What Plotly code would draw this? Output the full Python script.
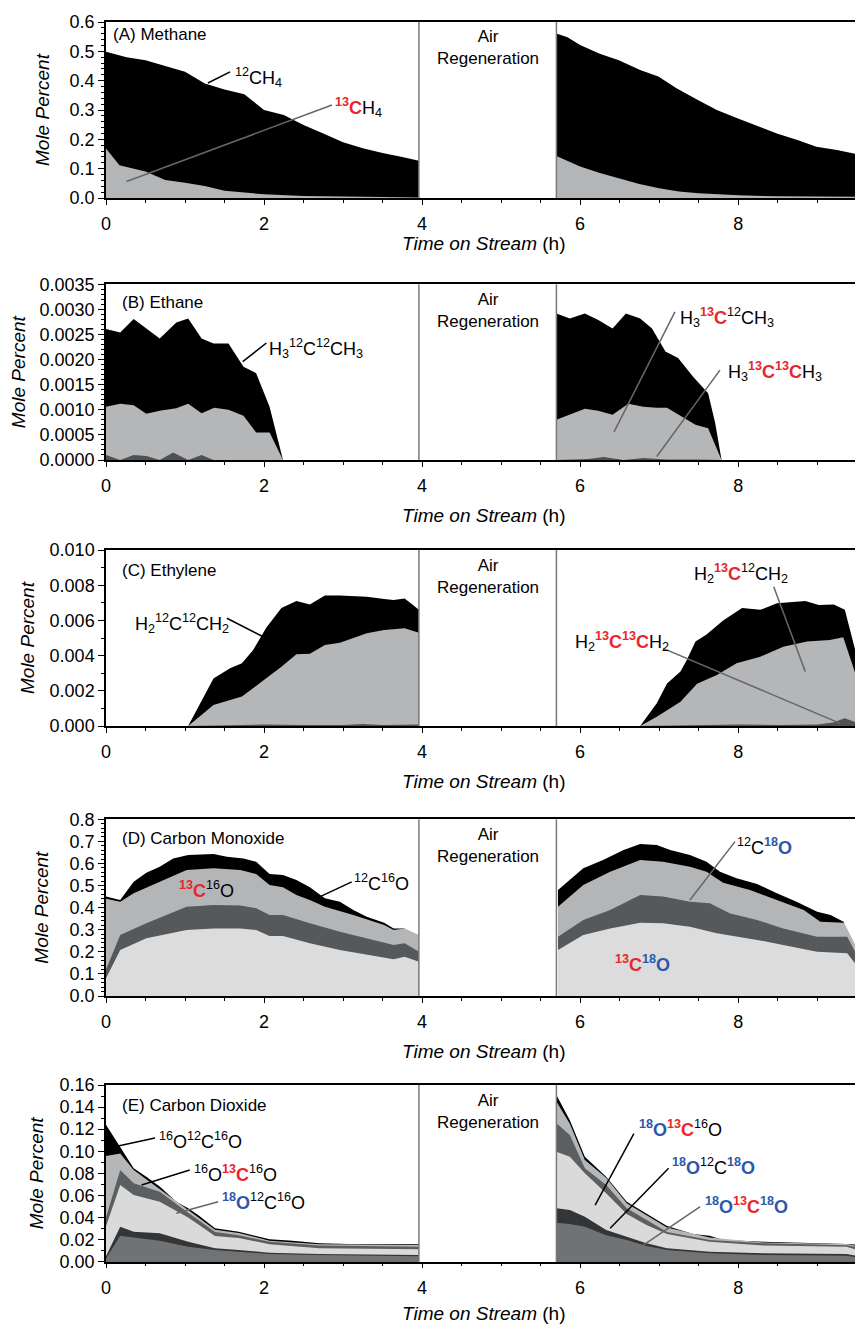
import plotly.graph_objects as go

# ---------------- DATA (mole percent vs time on stream, h) ----------------
# Cumulative (stacked) boundaries; each layer is drawn
# from zero, top-most layer first.

# (A) Methane
a1_t_tot = [0, 0.26, 0.5, 0.75, 1.0, 1.25, 1.5, 1.75, 2.0, 2.25, 2.5, 2.75, 3.0, 3.25, 3.5, 3.75, 3.96]
a1_tot = [0.499, 0.48, 0.47, 0.45, 0.43, 0.39, 0.37, 0.354, 0.30, 0.283, 0.249, 0.22, 0.19, 0.17, 0.153, 0.14, 0.127]
a1_t_13 = [0, 0.17, 0.5, 0.75, 1.0, 1.25, 1.5, 1.75, 2.0, 2.5, 3.0, 3.5, 3.96]
a1_13 = [0.169, 0.112, 0.09, 0.061, 0.052, 0.041, 0.025, 0.018, 0.0125, 0.007, 0.004, 0.003, 0.002]
a2_t_tot = [5.70, 5.84, 6.0, 6.24, 6.49, 6.76, 6.99, 7.22, 7.49, 7.73, 7.99, 8.24, 8.49, 8.75, 8.99, 9.25, 9.5, 9.53, 9.58]
a2_tot = [0.561, 0.548, 0.522, 0.493, 0.47, 0.436, 0.414, 0.374, 0.334, 0.30, 0.272, 0.245, 0.22, 0.198, 0.175, 0.164, 0.15, 0.145, 0.125]
a2_t_13 = [5.70, 6.0, 6.25, 6.5, 6.75, 7.0, 7.25, 7.5, 8.0, 8.5, 9.0, 9.58]
a2_13 = [0.143, 0.107, 0.085, 0.067, 0.048, 0.033, 0.022, 0.016, 0.009, 0.006, 0.005, 0.004]

# (B) Ethane
b1_t_tot = [0, 0.18, 0.35, 0.68, 0.89, 1.04, 1.21, 1.36, 1.55, 1.74, 1.9, 2.07, 2.24]
b1_tot = [0.00261, 0.00254, 0.00281, 0.00242, 0.00274, 0.00282, 0.00242, 0.00232, 0.00232, 0.00186, 0.00173, 0.00106, 0]
b1_t_13 = [0, 0.18, 0.35, 0.51, 0.68, 0.89, 1.04, 1.21, 1.37, 1.55, 1.74, 1.9, 2.07, 2.24]
b1_13 = [0.00106, 0.00112, 0.00109, 0.00092, 0.00098, 0.00103, 0.00112, 0.00093, 0.00104, 0.001, 0.00088, 0.00055, 0.00055, 0]
b1_t_1313 = [0, 0.18, 0.35, 0.51, 0.68, 0.85, 1.04, 1.21, 1.36]
b1_1313 = [0.0001, 0.0, 0.0001, 0.00008, 0.0, 0.00015, 0.0, 0.0001, 0.0]
b2_t_tot = [5.70, 5.87, 6.06, 6.23, 6.41, 6.58, 6.76, 6.91, 7.08, 7.24, 7.43, 7.62, 7.71, 7.79]
b2_tot = [0.00292, 0.00282, 0.00292, 0.00279, 0.00262, 0.00292, 0.00282, 0.00262, 0.00216, 0.00203, 0.00166, 0.00133, 0.00073, 0]
b2_t_13 = [5.70, 5.87, 6.06, 6.23, 6.41, 6.61, 6.8, 6.97, 7.1, 7.29, 7.46, 7.62, 7.79]
b2_13 = [0.0008, 0.0009, 0.00102, 0.00098, 0.0009, 0.00112, 0.00106, 0.00104, 0.00104, 0.00086, 0.0007, 0.00063, 0]
b2_t_1313 = [5.70, 6.1, 6.3, 6.45, 6.55, 6.8, 6.95, 7.1, 7.5, 7.79]
b2_1313 = [0, 0.00002, 0.00006, 0.00003, 0.0, 0.00004, 0.00003, 0.00001, 0.00001, 0]

# (C) Ethylene
c1_t_tot = [1.04, 1.36, 1.57, 1.72, 1.86, 2.03, 2.22, 2.41, 2.58, 2.77, 2.96, 3.3, 3.52, 3.64, 3.78, 3.96]
c1_tot = [0, 0.0027, 0.00328, 0.00356, 0.0043, 0.0056, 0.0067, 0.0071, 0.0069, 0.00742, 0.00742, 0.00735, 0.00722, 0.00716, 0.00725, 0.0066]
c1_t_13 = [1.04, 1.36, 1.57, 1.72, 1.86, 2.03, 2.22, 2.41, 2.58, 2.77, 2.96, 3.3, 3.52, 3.78, 3.96]
c1_13 = [0, 0.00119, 0.00148, 0.00167, 0.00214, 0.0027, 0.00337, 0.00407, 0.0041, 0.0046, 0.00473, 0.00527, 0.00545, 0.00555, 0.0053]
c1_t_1313 = [1.04, 1.5, 2.0, 2.5, 3.0, 3.25, 3.5, 3.96]
c1_1313 = [0, 0.00005, 0.00008, 0.00005, 0.00006, 0.00012, 0.00006, 0.00008]
c2_t_tot = [6.76, 6.97, 7.1, 7.27, 7.35, 7.46, 7.6, 7.81, 8.05, 8.28, 8.49, 8.68, 8.85, 9.02, 9.21, 9.35, 9.58]
c2_tot = [0, 0.00129, 0.00242, 0.0031, 0.00375, 0.0048, 0.0052, 0.006, 0.0067, 0.0066, 0.00697, 0.00705, 0.0071, 0.00688, 0.0069, 0.0066, 0.0026]
c2_t_13 = [6.76, 6.97, 7.27, 7.48, 7.73, 7.98, 8.28, 8.57, 8.87, 9.16, 9.33, 9.58]
c2_13 = [0, 0.00053, 0.00138, 0.0024, 0.0029, 0.00356, 0.00394, 0.0045, 0.0048, 0.00489, 0.00504, 0.00167]
c2_t_1313 = [6.76, 7.5, 8.0, 8.5, 9.0, 9.2, 9.35, 9.5, 9.58]
c2_1313 = [0, 0.00005, 0.00008, 0.00006, 0.00008, 0.0002, 0.00044, 0.0002, 0.0001]

# (D) Carbon monoxide
d1_t_1216 = [0, 0.18, 0.35, 0.51, 0.68, 0.85, 1.04, 1.36, 1.53, 1.74, 1.9, 2.07, 2.24, 2.41, 2.58, 2.77, 2.96, 3.13, 3.3, 3.52, 3.64, 3.78]
d1_1216 = [0.45, 0.435, 0.517, 0.558, 0.585, 0.623, 0.638, 0.643, 0.63, 0.623, 0.608, 0.552, 0.548, 0.525, 0.492, 0.442, 0.427, 0.389, 0.359, 0.332, 0.306, 0.306]
d1_t_1316 = [0, 0.18, 0.35, 0.68, 1.02, 1.36, 1.7, 1.9, 2.07, 2.24, 2.41, 2.58, 2.77, 3.13, 3.52, 3.64, 3.78, 3.96]
d1_1316 = [0.44, 0.427, 0.465, 0.517, 0.57, 0.578, 0.57, 0.552, 0.502, 0.492, 0.457, 0.435, 0.404, 0.367, 0.321, 0.299, 0.306, 0.276]
d1_t_18 = [0, 0.18, 0.51, 1.02, 1.36, 1.7, 1.9, 2.07, 2.24, 2.58, 2.96, 3.3, 3.64, 3.78, 3.96]
d1_1218 = [0.12, 0.276, 0.329, 0.404, 0.412, 0.41, 0.397, 0.367, 0.367, 0.329, 0.291, 0.261, 0.231, 0.239, 0.2]
d1_1318 = [0.08, 0.208, 0.261, 0.299, 0.306, 0.306, 0.299, 0.272, 0.272, 0.239, 0.208, 0.186, 0.166, 0.178, 0.155]
d2_t_1216 = [5.72, 5.87, 6.04, 6.29, 6.55, 6.76, 6.97, 7.14, 7.39, 7.6, 7.77, 7.98, 8.24, 8.49, 8.74, 9.0, 9.17, 9.34]
d2_1216 = [0.48, 0.525, 0.578, 0.616, 0.661, 0.688, 0.684, 0.661, 0.638, 0.608, 0.563, 0.533, 0.507, 0.465, 0.427, 0.382, 0.367, 0.335]
d2_t_1316 = [5.72, 6.04, 6.38, 6.76, 7.05, 7.39, 7.6, 7.81, 8.15, 8.49, 8.83, 9.04, 9.34, 9.58]
d2_1316 = [0.404, 0.502, 0.563, 0.616, 0.608, 0.585, 0.563, 0.513, 0.48, 0.435, 0.389, 0.336, 0.332, 0.163]
d2_t_1218 = [5.72, 6.04, 6.38, 6.76, 7.05, 7.39, 7.64, 7.9, 8.24, 8.57, 9.0, 9.38, 9.58]
d2_1218 = [0.268, 0.344, 0.389, 0.457, 0.45, 0.427, 0.42, 0.374, 0.344, 0.306, 0.268, 0.268, 0.133]
d2_t_1318 = [5.72, 6.04, 6.38, 6.76, 7.05, 7.39, 7.73, 8.24, 8.57, 9.0, 9.38, 9.58]
d2_1318 = [0.208, 0.276, 0.306, 0.332, 0.329, 0.314, 0.284, 0.254, 0.231, 0.2, 0.193, 0.103]

# (E) Carbon dioxide
e1_t_top = [0, 0.2, 0.35, 0.51, 0.68, 0.89, 1.04, 1.17, 1.38, 1.68, 1.86, 2.07, 2.36, 2.7, 3.07, 3.96]
e1_161216 = [0.124, 0.101, 0.0846, 0.077, 0.068, 0.0543, 0.0483, 0.042, 0.0302, 0.0272, 0.0242, 0.0203, 0.019, 0.0167, 0.016, 0.016]
e1_t = [0, 0.18, 0.35, 0.68, 1.04, 1.38, 1.68, 2.07, 2.7, 3.96]
e1_161316 = [0.0957, 0.098, 0.083, 0.066, 0.0468, 0.029, 0.026, 0.019, 0.0158, 0.0153]
e1_181216 = [0.04, 0.083, 0.071, 0.0634, 0.0444, 0.027, 0.024, 0.018, 0.0146, 0.0136]
e1_181316 = [0.032, 0.0695, 0.0604, 0.0543, 0.04, 0.0233, 0.0215, 0.0158, 0.0121, 0.0113]
e1_181218 = [0.005, 0.0317, 0.0272, 0.0257, 0.0181, 0.0121, 0.0106, 0.0082, 0.007, 0.006]
e1_181318 = [0.003, 0.0236, 0.022, 0.019, 0.0136, 0.0106, 0.009, 0.007, 0.006, 0.005]
e2_t_top = [5.70, 5.87, 6.06, 6.33, 6.59, 6.84, 7.1, 7.43, 7.64, 7.81, 8.32, 9.37, 9.58]
e2_161216 = [0.151, 0.128, 0.095, 0.077, 0.0543, 0.0438, 0.0323, 0.0251, 0.0236, 0.0197, 0.018, 0.016, 0.015]
e2_t = [5.70, 5.87, 6.06, 6.33, 6.59, 6.84, 7.1, 7.64, 8.32, 9.37, 9.58]
e2_161316 = [0.145, 0.125, 0.092, 0.076, 0.053, 0.042, 0.031, 0.022, 0.0173, 0.016, 0.0136]
e2_181216 = [0.1253, 0.1147, 0.0846, 0.0695, 0.0483, 0.0377, 0.027, 0.0197, 0.0167, 0.015, 0.012]
e2_181316 = [0.0996, 0.095, 0.08, 0.062, 0.0432, 0.0332, 0.025, 0.018, 0.0146, 0.0136, 0.009]
e2_181218 = [0.0483, 0.0468, 0.0408, 0.0287, 0.0226, 0.0167, 0.0121, 0.009, 0.0076, 0.007, 0.0045]
e2_181318 = [0.0353, 0.0341, 0.0317, 0.024, 0.0197, 0.0143, 0.0106, 0.0076, 0.006, 0.0054, 0.003]

# axis settings
x_ticks = [0, 2, 4, 6, 8]
regen_start, regen_end = 3.96, 5.70
y_max = [0.6, 0.0035, 0.010, 0.8, 0.16]
y_dtick = [0.1, 0.0005, 0.002, 0.1, 0.02]
y_minor = [0.02, 0.0001, 0.001, 0.02, 0.01]
y_fmt = [".1f", ".4f", ".3f", ".1f", ".2f"]
panel_titles = ["(A) Methane", "(B) Ethane", "(C) Ethylene", "(D) Carbon Monoxide", "(E) Carbon Dioxide"]

# ---------------- LAYOUT CONSTANTS (page pixels) ----------------
PAGE_W, PAGE_H = 863, 1326
OFF = 8                      # default body margin of the html page
W, H = PAGE_W - OFF, PAGE_H - OFF
LEFT = 106                   # page x of plot-area left edge
PLOT_W = PAGE_W - LEFT
panel_px = [(22, 198), (284.3, 460), (550, 726), (819.3, 996), (1085, 1261.7)]
title_gap = [45, 55, 55.7, 55.7, 51.6]
ptitle_gap = [13, 18, 20, 19, 20]
ytitle_x = [42, 18, 27, 42, 36]
FONT = "Arial, 'Liberation Sans', Helvetica, sans-serif"
RED = "#e8262b"
BLUE = "#2b58aa"
BLACK = "#000000"
GRAY_LINE = "#666666"

C13 = f"<b><span style='color:{RED}'><sup>13</sup>C</span></b>"
O18 = f"<b><span style='color:{BLUE}'><sup>18</sup>O</span></b>"

fig = go.Figure()


def ax(k):
    return ("x" if k == 1 else f"x{k}"), ("y" if k == 1 else f"y{k}")


def area(k, t, v, color):
    xa, ya = ax(k)
    fig.add_trace(go.Scatter(x=t, y=v, mode="lines", line=dict(width=0, color=color),
                             fill="tozeroy", fillcolor=color, xaxis=xa, yaxis=ya,
                             hoverinfo="skip", showlegend=False))


# Panel A
area(1, a1_t_tot, a1_tot, "#000000"); area(1, a1_t_13, a1_13, "#b4b5b7")
area(1, a2_t_tot, a2_tot, "#000000"); area(1, a2_t_13, a2_13, "#b4b5b7")
# Panel B
for t1, v1, t2, v2, col in [(b1_t_tot, b1_tot, b2_t_tot, b2_tot, "#000000"),
                            (b1_t_13, b1_13, b2_t_13, b2_13, "#b5b6b8"),
                            (b1_t_1313, b1_1313, b2_t_1313, b2_1313, "#4f5254")]:
    area(2, t1, v1, col); area(2, t2, v2, col)
# Panel C
for t1, v1, t2, v2, col in [(c1_t_tot, c1_tot, c2_t_tot, c2_tot, "#000000"),
                            (c1_t_13, c1_13, c2_t_13, c2_13, "#b5b6b8"),
                            (c1_t_1313, c1_1313, c2_t_1313, c2_1313, "#4f5254")]:
    area(3, t1, v1, col); area(3, t2, v2, col)
# Panel D
for t1, v1, t2, v2, col in [(d1_t_1216, d1_1216, d2_t_1216, d2_1216, "#000000"),
                            (d1_t_1316, d1_1316, d2_t_1316, d2_1316, "#b3b5b7"),
                            (d1_t_18, d1_1218, d2_t_1218, d2_1218, "#55595b"),
                            (d1_t_18, d1_1318, d2_t_1318, d2_1318, "#dcdcdc")]:
    area(4, t1, v1, col); area(4, t2, v2, col)
# Panel E
area(5, e1_t_top, e1_161216, "#000000"); area(5, e2_t_top, e2_161216, "#000000")
for v1, v2, col in [(e1_161316, e2_161316, "#b5b6b8"),
                    (e1_181216, e2_181216, "#5b5f61"),
                    (e1_181316, e2_181316, "#dadada"),
                    (e1_181218, e2_181218, "#333537"),
                    (e1_181318, e2_181318, "#707274")]:
    area(5, e1_t, v1, col); area(5, e2_t, v2, col)

layout = dict(width=W, height=H, margin=dict(l=LEFT - OFF, r=0, t=0, b=0, autoexpand=False),
              paper_bgcolor="white", plot_bgcolor="white",
              font=dict(family=FONT, color="black", size=16), showlegend=False)
shapes, annos = [], []
for i in range(5):
    k = i + 1
    top, bot = panel_px[i]
    dom = [1 - (bot - OFF) / H, 1 - (top - OFF) / H]
    ph = bot - top
    xa, ya = ax(k)
    xkey = "xaxis" if k == 1 else f"xaxis{k}"
    ykey = "yaxis" if k == 1 else f"yaxis{k}"
    layout[xkey] = dict(domain=[0, 1], range=[0, 9.58], anchor=ya, tickvals=x_ticks, automargin=False,
                        ticks="outside", ticklen=5, tickwidth=1.3, tickcolor="black",
                        minor=dict(dtick=0.5, tick0=0, ticks="outside", ticklen=3, tickwidth=1.3, tickcolor="black"),
                        showline=True, linecolor="black", linewidth=1.5, mirror=True,
                        showgrid=False, zeroline=False, tickfont=dict(size=18), ticklabelstandoff=4)
    layout[ykey] = dict(domain=dom, range=[0, y_max[i]], anchor=xa, dtick=y_dtick[i], tick0=0, automargin=False,
                        tickformat=y_fmt[i], ticks="outside", ticklen=6, tickwidth=1.3, tickcolor="black",
                        minor=dict(dtick=y_minor[i], tick0=0, ticks="outside", ticklen=3, tickwidth=1, tickcolor="black"),
                        showline=True, linecolor="black", linewidth=1.5,
                        showgrid=False, zeroline=False, tickfont=dict(size=18))
    # regeneration boundaries
    for xv in (regen_start, regen_end):
        shapes.append(dict(type="line", xref=xa, yref=f"{ya} domain", x0=xv, x1=xv, y0=0, y1=1,
                           line=dict(color="#7a7a7a", width=1.5)))
    annos.append(dict(xref=xa, yref=f"{ya} domain", x=(regen_start + regen_end) / 2, y=1 - 26 / ph,
                      xanchor="center", yanchor="middle",
                      text="Air<br>Regeneration", showarrow=False, font=dict(size=17), align="center"))
    # panel title
    annos.append(dict(xref=xa, yref=f"{ya} domain", x=0.06 if k == 1 else 0.18, y=1 - ptitle_gap[i] / ph,
                      text=panel_titles[i], showarrow=False, xanchor="left", yanchor="middle",
                      font=dict(size=17)))
    # axis titles
    annos.append(dict(xref="paper", yref=f"{ya} domain", x=(484 - LEFT) / PLOT_W, y=-title_gap[i] / ph,
                      xanchor="center", yanchor="middle",
                      text="<i>Time on Stream</i> (h)", showarrow=False, font=dict(size=19)))
    annos.append(dict(xref="paper", yref=f"{ya} domain", x=(ytitle_x[i] - LEFT) / PLOT_W, y=0.5,
                      xanchor="center", yanchor="middle",
                      text="<i>Mole Percent</i>", textangle=-90, showarrow=False, font=dict(size=19)))


def label(k, x, y, text, size=18):
    xa, ya = ax(k)
    annos.append(dict(xref=xa, yref=ya, x=x, y=y, text=text, showarrow=False,
                      xanchor="left", yanchor="middle", font=dict(size=size)))


def leader(k, x0, y0, x1, y1, color=BLACK):
    xa, ya = ax(k)
    shapes.append(dict(type="line", xref=xa, yref=ya, x0=x0, y0=y0, x1=x1, y1=y1,
                       line=dict(color=color, width=1.5)))


# A
label(1, 1.61, 0.412, "<sup>12</sup>CH<sub>4</sub>")
leader(1, 1.29, 0.392, 1.57, 0.43)
label(1, 2.87, 0.31, C13 + "H<sub>4</sub>")
leader(1, 0.26, 0.056, 2.86, 0.317, GRAY_LINE)
# B
label(2, 2.04, 0.00223, "H<sub>3</sub><sup>12</sup>C<sup>12</sup>CH<sub>3</sub>")
leader(2, 1.73, 0.00196, 2.03, 0.00233)
label(2, 7.24, 0.00283, "H<sub>3</sub>" + C13 + "<sup>12</sup>CH<sub>3</sub>")
leader(2, 6.43, 0.00056, 7.2, 0.00295, GRAY_LINE)
label(2, 7.84, 0.00176, "H<sub>3</sub>" + C13 + C13 + "H<sub>3</sub>")
leader(2, 6.97, 0.00007, 7.77, 0.00179, GRAY_LINE)
# C
label(3, 0.34, 0.00585, "H<sub>2</sub><sup>12</sup>C<sup>12</sup>CH<sub>2</sub>")
leader(3, 1.53, 0.00612, 1.99, 0.00507)
label(3, 7.41, 0.00868, "H<sub>2</sub>" + C13 + "<sup>12</sup>CH<sub>2</sub>")
leader(3, 8.45, 0.00791, 8.85, 0.00309, GRAY_LINE)
label(3, 5.91, 0.00479, "H<sub>2</sub>" + C13 + C13 + "H<sub>2</sub>")
leader(3, 7.05, 0.00441, 9.29, 0.00015, GRAY_LINE)
# D
label(4, 0.9, 0.48, C13 + "<sup>16</sup>O")
label(4, 3.11, 0.512, "<sup>12</sup>C<sup>16</sup>O")
leader(4, 2.71, 0.45, 3.11, 0.517)
label(4, 7.96, 0.676, "<sup>12</sup>C" + O18)
leader(4, 7.39, 0.435, 7.96, 0.699, GRAY_LINE)
label(4, 6.42, 0.149, C13 + O18)
# E
label(5, 0.65, 0.110, "<sup>16</sup>O<sup>12</sup>C<sup>16</sup>O")
leader(5, 0.11, 0.104, 0.62, 0.112)
label(5, 1.09, 0.080, "<sup>16</sup>O" + C13 + "<sup>16</sup>O")
leader(5, 0.45, 0.0695, 1.06, 0.083)
label(5, 1.44, 0.0543, O18 + "<sup>12</sup>C<sup>16</sup>O")
leader(5, 0.89, 0.0438, 1.42, 0.0543, GRAY_LINE)
label(5, 6.72, 0.1208, O18 + C13 + "<sup>16</sup>O")
leader(5, 6.19, 0.0513, 6.68, 0.116)
label(5, 7.14, 0.086, O18 + "<sup>12</sup>C" + O18)
leader(5, 6.38, 0.0302, 7.12, 0.0846)
label(5, 7.56, 0.0513, O18 + C13 + O18)
leader(5, 6.8, 0.0151, 7.52, 0.0498, GRAY_LINE)

layout["shapes"] = shapes
layout["annotations"] = annos
fig.update_layout(**layout)
fig.write_html("out.html")
